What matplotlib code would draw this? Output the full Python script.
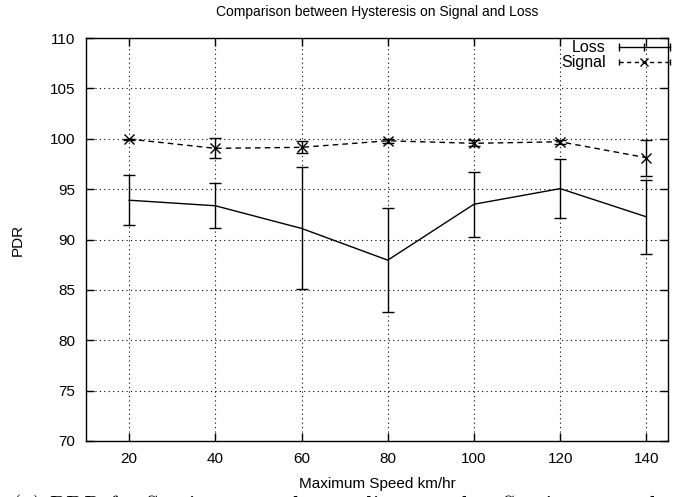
import matplotlib.pyplot as plt
from matplotlib.lines import Line2D
from matplotlib.legend_handler import HandlerLine2D

# data
speed = [20, 40, 60, 80, 100, 120, 140]
loss = [93.9, 93.35, 91.1, 87.95, 93.5, 95.05, 92.25]
loss_err = [2.5, 2.25, 6.05, 5.15, 3.25, 2.9, 3.7]
signal = [99.97, 99.05, 99.15, 99.8, 99.55, 99.7, 98.12]
signal_err = [0.05, 1.0, 0.6, 0.2, 0.3, 0.2, 1.8]
xticks = [20, 40, 60, 80, 100, 120, 140]
yticks = [70, 75, 80, 85, 90, 95, 100, 105, 110]

plt.rcParams['font.family'] = ['Liberation Sans', 'DejaVu Sans']

fig = plt.figure(figsize=(6.89, 4.97), dpi=100)
ax = fig.add_axes([0.1248, 0.1127, 0.8447, 0.8108])

dash = (0, (4, 3))
ax.errorbar(speed, loss, yerr=loss_err, color='black', lw=1.0,
            capsize=4, elinewidth=1.0, capthick=1.0)
ax.errorbar(speed, signal, yerr=signal_err, color='black', lw=1.0,
            ls=dash, marker='x', ms=7, mew=1.0,
            capsize=4, elinewidth=1.0, capthick=1.0)

ax.set_xlim(10, 145)
ax.set_ylim(70, 110)
ax.set_xticks(xticks)
ax.set_yticks(yticks)
ax.tick_params(direction='in', length=6, width=1, top=True, right=True,
               labelsize=11, pad=8)
ax.grid(True, color='black', ls=(0, (1, 3)), lw=0.8)
for s in ax.spines.values():
    s.set_linewidth(1.0)

ax.set_title('Comparison between Hysteresis on Signal and Loss', fontsize=10, pad=16)
ax.set_xlabel('Maximum Speed km/hr', fontsize=11, labelpad=8)
ax.set_ylabel('PDR', fontsize=11, labelpad=18)

# gnuplot style legend keys: line with caps at the ends
loss_key = Line2D([], [], color='black', lw=1, marker='|', ms=6, mew=1)
sig_caps = Line2D([], [], color='black', lw=1, ls=(0, (3, 2.5)), marker='|', ms=5, mew=1)
sig_x = Line2D([], [], color='black', ls='none', marker='x', ms=6, mew=1)
ax.legend([loss_key, (sig_caps, sig_x)], ['Loss', 'Signal'],
          handler_map={loss_key: HandlerLine2D(numpoints=3),
                       sig_caps: HandlerLine2D(numpoints=2),
                       sig_x: HandlerLine2D(numpoints=1)},
          loc='upper right', bbox_to_anchor=(0.979, 0.919),
          bbox_transform=fig.transFigure, frameon=False, borderpad=0,
          borderaxespad=0, markerfirst=False, fontsize=11.5, handlelength=3.8,
          handletextpad=0.5, labelspacing=0.0)

# caption, cut off at the bottom edge like the source
fig.text(0.018, 0.004, '(a) PDR for Stationary nodes sending to other Stationary nodes',
         family=['cmr10', 'DejaVu Serif'], fontsize=17, va='top', ha='left')

fig.savefig('out.png', dpi=100)
